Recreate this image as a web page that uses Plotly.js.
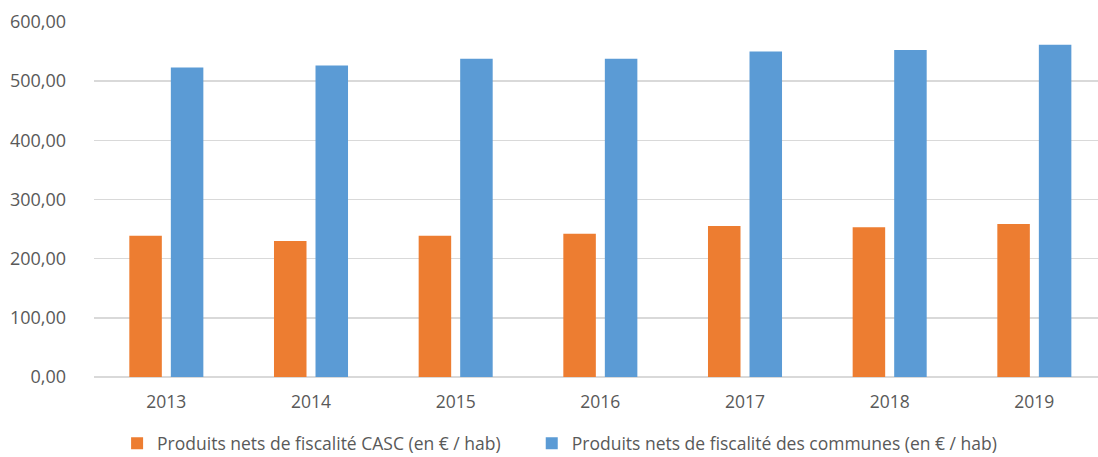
<!DOCTYPE html>
<html>
<head>
<meta charset="utf-8">
<script src="https://cdn.plot.ly/plotly-3.0.1.min.js"></script>
<style>html,body{margin:0;padding:0;background:#fff;}#chart{width:1098px;height:457px;}</style>
</head>
<body>
<div id="chart"></div>
<script>
const years = ['2013', '2014', '2015', '2016', '2017', '2018', '2019'];
const casc = [238.7, 229.7, 238.7, 242.1, 255.1, 252.9, 258.5];
const communes = [523.1, 526.5, 537.8, 537.8, 550.2, 552.6, 561.5];
const seriesNames = ['Produits nets de fiscalité CASC (en € / hab)', 'Produits nets de fiscalité des communes (en € / hab)'];
const yTicks = [0, 100, 200, 300, 400, 500, 600];

const baseFont = {family: 'Open Sans, sans-serif', size: 17.5, color: '#595959'};
const yFont = {family: 'Open Sans, sans-serif', size: 18, color: '#595959'};

const data = [
  {type: 'bar', x: years, y: casc, name: seriesNames[0], marker: {color: '#ED7D31'}, hoverinfo: 'y', legend: 'legend'},
  {type: 'bar', x: years, y: communes, name: seriesNames[1], marker: {color: '#5B9BD5'}, hoverinfo: 'y', legend: 'legend2'}
];

const legendBase = {orientation: 'h', yref: 'container', y: 0.03, yanchor: 'middle', xanchor: 'left', font: baseFont, itemclick: false, bgcolor: 'rgba(0,0,0,0)'};

const layout = {
  width: 1098, height: 457,
  margin: {l: 94, r: 0, t: 22, b: 80},
  paper_bgcolor: '#fff', plot_bgcolor: '#fff',
  font: baseFont,
  separators: ', ',
  barmode: 'group',
  bargap: 0.426,
  bargroupgap: 0.217,
  showlegend: true,
  legend: Object.assign({}, legendBase, {x: 0.023}),
  legend2: Object.assign({}, legendBase, {x: 0.436}),
  xaxis: {type: 'category', range: [-0.5, 6.44], showgrid: false, showline: false, zeroline: false, ticks: '', ticklabelstandoff: 12, tickfont: baseFont, fixedrange: true},
  yaxis: {range: [0, 600], tickvals: yTicks, tickformat: '.2f', showgrid: true, gridcolor: '#d9d9d9', gridwidth: 1.5, zeroline: true, zerolinecolor: '#d9d9d9', zerolinewidth: 1.5, showline: false, ticks: '', ticklabelstandoff: 27, tickfont: yFont, fixedrange: true}
};

Plotly.newPlot('chart', data, layout, {displayModeBar: false, staticPlot: true});
</script>
</body>
</html>
